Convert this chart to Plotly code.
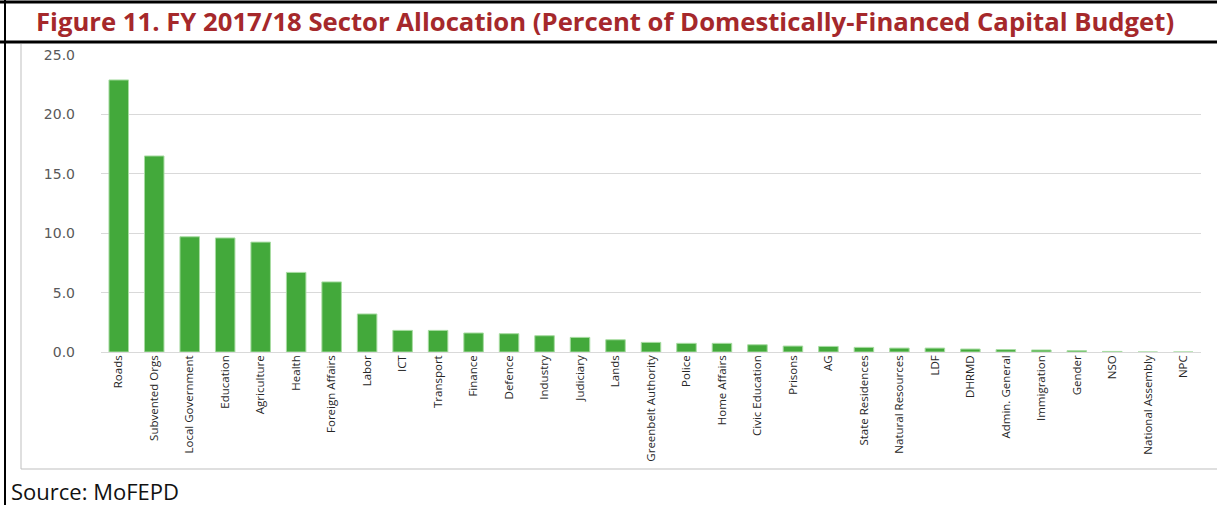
import plotly.graph_objects as go

categories = ["Roads", "Subvented Orgs", "Local Government", "Education", "Agriculture",
              "Health", "Foreign Affairs", "Labor", "ICT", "Transport", "Finance",
              "Defence", "Industry", "Judiciary", "Lands", "Greenbelt Authority",
              "Police", "Home Affairs", "Civic Education", "Prisons", "AG",
              "State Residences", "Natural Resources", "LDF", "DHRMD", "Admin. General",
              "Immigration", "Gender", "NSO", "National Assembly", "NPC"]
values = [22.9, 16.5, 9.7, 9.6, 9.25, 6.7, 5.9, 3.2, 1.82, 1.82, 1.6,
          1.54, 1.37, 1.23, 1.03, 0.81, 0.73, 0.73, 0.61, 0.5, 0.47,
          0.39, 0.33, 0.33, 0.25, 0.2, 0.17, 0.11, 0.05, 0.0, 0.0]
y_ticks = [0, 5, 10, 15, 20, 25]
y_tick_labels = ["0.0", "5.0", "10.0", "15.0", "20.0", "25.0"]

title_text = "Figure 11. FY 2017/18 Sector Allocation (Percent of Domestically-Financed Capital Budget)"
source_text = "Source: MoFEPD"

W, H = 1217, 505
L, R, T, B = 101, 1201, 55, 352  # plot area pixel box


def px(x):
    return (x - L) / (R - L)


def py(y):
    return (B - y) / (B - T)


fig = go.Figure(go.Bar(
    x=categories, y=values,
    marker=dict(color="#43a93b", line=dict(color="#a8dca2", width=1)),
    width=0.55,
))

shapes = [
    # outer black frame
    dict(type="line", x0=px(0), x1=px(W), y0=py(2), y1=py(2), line=dict(color="black", width=3)),
    dict(type="line", x0=px(0), x1=px(W), y0=py(42), y1=py(42), line=dict(color="black", width=3)),
    dict(type="line", x0=px(5), x1=px(5), y0=py(0), y1=py(H), line=dict(color="black", width=2)),
    # inner grey chart box
    dict(type="line", x0=px(21), x1=px(21), y0=py(44), y1=py(469), line=dict(color="#bfbfbf", width=1)),
    dict(type="line", x0=px(21), x1=px(W), y0=py(469), y1=py(469), line=dict(color="#bfbfbf", width=1)),
]
for s in shapes:
    s["xref"] = "paper"
    s["yref"] = "paper"
    s["layer"] = "above"

fig.update_layout(
    width=W, height=H,
    margin=dict(l=L, r=W - R, t=T, b=H - B),
    paper_bgcolor="white", plot_bgcolor="white",
    showlegend=False,
    bargap=0.45,
    shapes=shapes,
    annotations=[
        dict(text=title_text, xref="paper", yref="paper", x=px(605), y=py(22),
             xanchor="center", yanchor="middle", showarrow=False,
             font=dict(family="Open Sans", size=25.7, color="#a5282b", weight="bold")),
        dict(text=source_text, xref="paper", yref="paper", x=px(9), y=py(491),
             xanchor="left", yanchor="middle", showarrow=False,
             font=dict(family="Open Sans", size=22, color="#111111")),
    ],
    xaxis=dict(
        tickangle=-90, showgrid=False, showline=False, ticks="",
        tickfont=dict(family="Open Sans", size=11.5, color="#262626"),
        range=[-0.5, len(categories) - 0.5],
    ),
    yaxis=dict(
        range=[0, 25], tickvals=y_ticks, ticktext=y_tick_labels,
        showgrid=True, gridcolor="#d9d9d9", gridwidth=1,
        zeroline=True, zerolinecolor="#d9d9d9", zerolinewidth=1,
        showline=False, ticks="", ticklabelstandoff=25,
        tickfont=dict(family="DejaVu Sans", size=14, color="#595959"),
    ),
)

fig.write_html("out.html", config={"displayModeBar": False},
               post_script="document.body.style.margin='0';")
